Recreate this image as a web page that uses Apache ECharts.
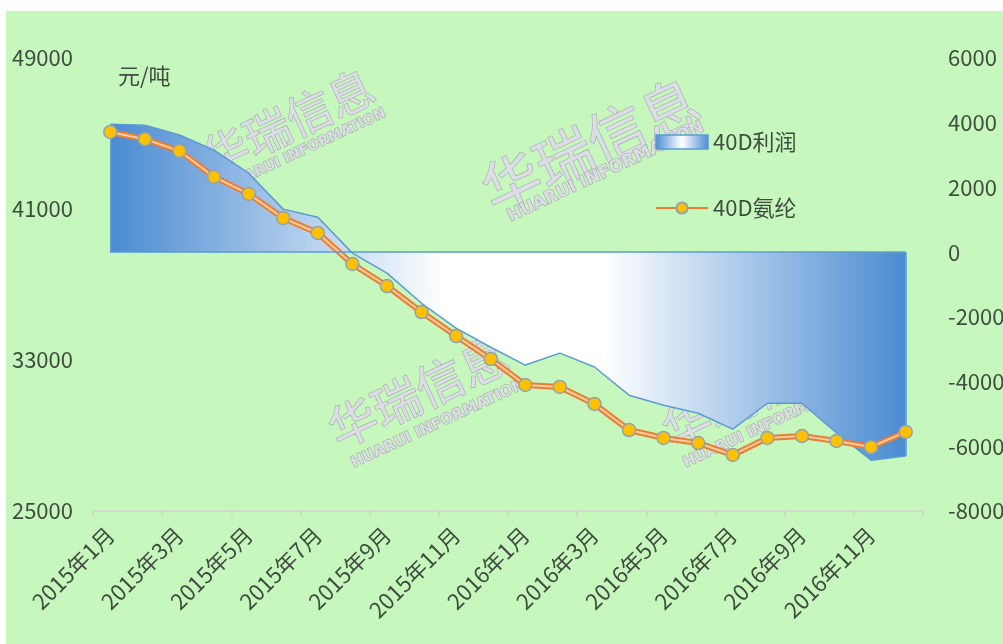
<!DOCTYPE html>
<html>
<head>
<meta charset="utf-8">
<script src="https://cdn.jsdelivr.net/npm/echarts@6/dist/echarts.min.js"></script>
<style>
html,body{margin:0;padding:0;background:#ffffff;overflow:hidden;}
#c{width:1003px;height:644px;}
</style>
</head>
<body>
<div id="c"></div>
<script>
var months = ['2015年1月','2015年2月','2015年3月','2015年4月','2015年5月','2015年6月','2015年7月','2015年8月','2015年9月','2015年10月','2015年11月','2015年12月',
              '2016年1月','2016年2月','2016年3月','2016年4月','2016年5月','2016年6月','2016年7月','2016年8月','2016年9月','2016年10月','2016年11月','2016年12月'];
var spandexPrice = [45080, 44700, 44070, 42700, 41800, 40520, 39730, 38090, 36920, 35540, 34270, 33050,
                    31680, 31570, 30670, 29290, 28870, 28600, 27970, 28870, 28970, 28710, 28390, 29190];
var profit = [3950, 3920, 3620, 3150, 2440, 1330, 1080, -30, -650, -1580, -2350, -2940,
              -3490, -3120, -3550, -4420, -4730, -4980, -5470, -4670, -4670, -5590, -6430, -6300];
var unitLabel = '元/吨';
var profitName = '40D利润';
var priceName = '40D氨纶';

var FONT = '"Noto Sans CJK SC", "Noto Sans", sans-serif';
var TXT = '#414c41';
var chart = echarts.init(document.getElementById('c'), null, {renderer: 'canvas', width: 1003, height: 644});

var blueGrad = new echarts.graphic.LinearGradient(0, 0, 1, 0, [
  {offset: 0, color: '#4a8bd2'},
  {offset: 0.42, color: '#ffffff'},
  {offset: 0.62, color: '#ffffff'},
  {offset: 1, color: '#4a8bd2'}
]);
var legendGrad = new echarts.graphic.LinearGradient(0, 0, 1, 0, [
  {offset: 0, color: '#4a8bd2'},
  {offset: 0.5, color: '#ffffff'},
  {offset: 1, color: '#4a8bd2'}
]);

function wm(x, y, size, rot, txt, bold) {
  return {
    type: 'text', x: x, y: y, rotation: rot, z: -5, silent: true,
    style: {
      text: txt, fill: '#dcdde6', stroke: '#a3a9a5', lineWidth: 1.2,
      font: (bold ? 'bold ' : '') + size + 'px ' + (bold ? '"DejaVu Sans"' : FONT),
      align: 'center', verticalAlign: 'middle'
    }
  };
}
var R = 25 * Math.PI / 180;
function plain(v) { return String(v); }

var n = months.length;
var option = {
  backgroundColor: '#ffffff',
  animation: false,
  graphic: [
    {type: 'rect', shape: {x: 6, y: 11, width: 997, height: 633}, style: {fill: '#c6f8bd'}, z: -10, silent: true},
    wm(288, 122, 46, R, '华瑞信息', false),
    wm(305, 150, 14, R, 'HUARUI INFORMATION', true),
    wm(590, 145, 58, R, '华瑞信息', false),
    wm(606, 172, 17, R, 'HUARUI INFORMATION', true),
    wm(418, 392, 48, R, '华瑞信息', false),
    wm(438, 424, 15, R, 'HUARUI INFORMATION', true),
    wm(752, 393, 48, R, '华瑞信息', false),
    wm(770, 424, 15, R, 'HUARUI INFORMATION', true),
    {type: 'text', x: 118, y: 76, silent: true, style: {text: unitLabel, fill: TXT, font: '22px ' + FONT, verticalAlign: 'middle'}}
  ],
  grid: {left: 93, right: 80, top: 58, bottom: 133, containLabel: false, outerBoundsMode: 'none'},
  legend: {
    orient: 'vertical', left: 650, top: 126, padding: 5, itemWidth: 52, itemHeight: 14, itemGap: 44,
    textStyle: {color: TXT, fontSize: 22, fontFamily: FONT},
    data: [
      {name: profitName, icon: 'rect', itemStyle: {color: legendGrad, borderColor: '#5b9bd5', borderWidth: 1.5}},
      {name: priceName}
    ]
  },
  xAxis: {
    type: 'category', data: months, boundaryGap: true,
    axisLine: {show: true, onZero: false, lineStyle: {color: '#d0d4cc', width: 1.5}},
    axisTick: {show: true, length: 6, interval: 1, lineStyle: {color: '#d0d4cc', width: 1.5}},
    axisLabel: {interval: 1, rotate: 45, color: TXT, fontSize: 22, fontFamily: FONT, margin: 20}
  },
  yAxis: [
    {type: 'value', min: 25000, max: 49000, interval: 8000, position: 'left',
     axisLine: {show: false}, axisTick: {show: false}, splitLine: {show: false},
     axisLabel: {color: TXT, fontSize: 22, fontFamily: FONT, margin: 20, formatter: plain}},
    {type: 'value', min: -8000, max: 6000, interval: 2000, position: 'right',
     axisLine: {show: false}, axisTick: {show: false}, splitLine: {show: false},
     axisLabel: {color: TXT, fontSize: 22, fontFamily: FONT, margin: 25, formatter: plain}}
  ],
  series: [
    {
      name: profitName, type: 'line', yAxisIndex: 1, data: profit, symbol: 'none', z: 2,
      itemStyle: {color: legendGrad},
      lineStyle: {color: '#5b9bd5', width: 1.5},
      areaStyle: {color: blueGrad, opacity: 1},
      markLine: {
        silent: true, symbol: 'none', label: {show: false},
        lineStyle: {color: '#5b9bd5', width: 1.5, type: 'solid'},
        data: [
          [{coord: [months[0], 0]}, {coord: [months[n - 1], 0]}],
          [{coord: [months[0], 0]}, {coord: [months[0], profit[0]]}],
          [{coord: [months[n - 1], 0]}, {coord: [months[n - 1], profit[n - 1]]}]
        ]
      }
    },
    {
      name: priceName, type: 'line', yAxisIndex: 0, data: spandexPrice, z: 3,
      symbol: 'circle', symbolSize: 13, showSymbol: false,
      itemStyle: {color: '#ffc000', borderColor: '#8ea4b4', borderWidth: 1.5},
      lineStyle: {color: '#ed7d31', width: 6}
    },
    {
      name: priceName + '_inner', type: 'line', yAxisIndex: 0, data: spandexPrice, z: 4,
      symbol: 'none', silent: true,
      lineStyle: {color: '#f8cfa4', width: 2}
    },
    {
      name: priceName + '_marker', type: 'line', yAxisIndex: 0, data: spandexPrice, z: 5,
      symbol: 'circle', symbolSize: 13, silent: true,
      itemStyle: {color: '#ffc000', borderColor: '#8ea4b4', borderWidth: 1.5},
      lineStyle: {width: 0, opacity: 0}
    }
  ]
};
chart.setOption(option);
</script>
</body>
</html>
